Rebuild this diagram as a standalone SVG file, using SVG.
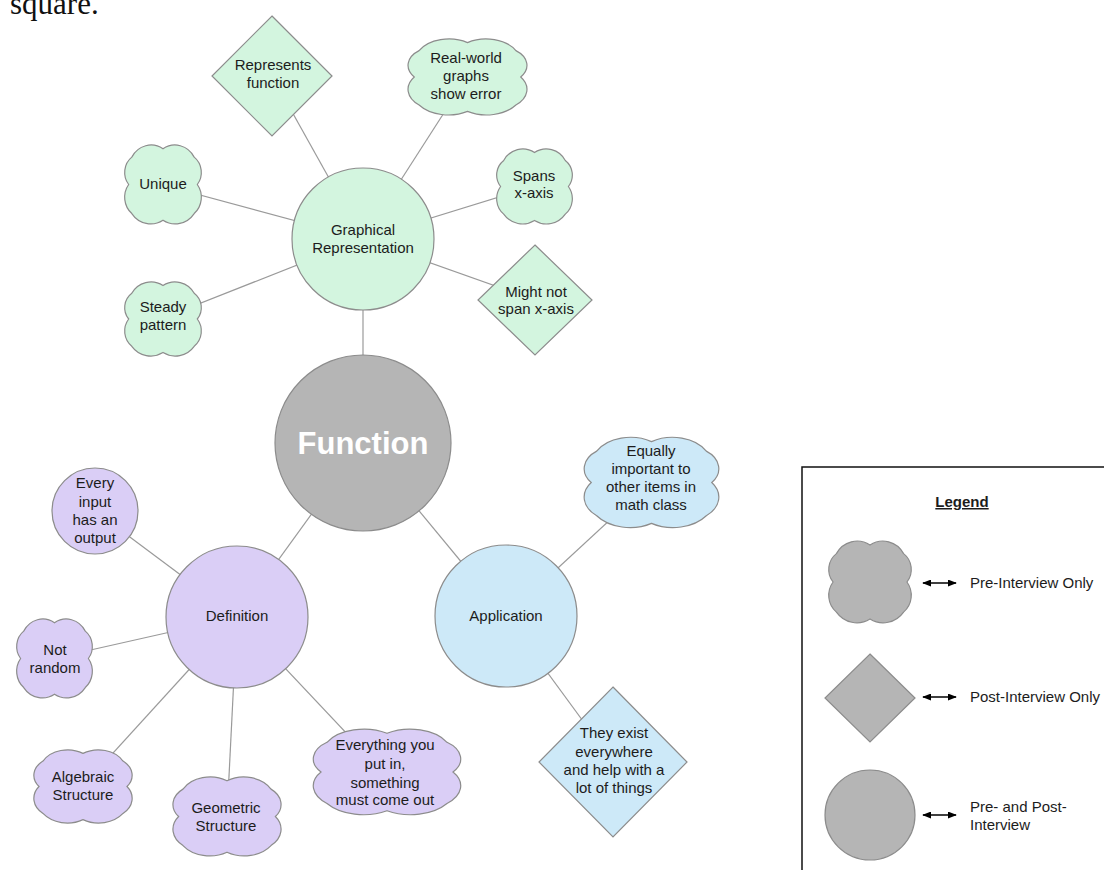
<svg xmlns="http://www.w3.org/2000/svg" width="1104" height="870" viewBox="0 0 1104 870">
<style>
.n{stroke:#8c8c8c;stroke-width:1.2}
.g{fill:#d3f5df}
.p{fill:#dacef6}
.b{fill:#cde9f8}
.k{fill:#b5b5b5}
.t{font-family:"Liberation Sans",Arial,sans-serif;font-size:15px;fill:#1c1c1c;text-anchor:middle}
.l{font-family:"Liberation Sans",Arial,sans-serif;font-size:15px;fill:#1c1c1c}
.c line{stroke:#9a9a9a;stroke-width:1.2}
</style>
<defs>
<path id="cloud" vector-effect="non-scaling-stroke" d="M10,17 A28.1,28.1 0 0 1 50,7 A28.1,28.1 0 0 1 90,17 A23.2,23.2 0 0 1 94,50 A25.6,25.6 0 0 1 90,85 A30,30 0 0 1 50,93 A30,30 0 0 1 10,85 A25.6,25.6 0 0 1 6,50 A23.2,23.2 0 0 1 10,17 Z"/>
<marker id="ah" viewBox="0 0 10 10" refX="9" refY="5" markerWidth="9" markerHeight="7" markerUnits="userSpaceOnUse" orient="auto-start-reverse" preserveAspectRatio="none">
<path d="M0,0 L10,5 L0,10 Z" fill="#000"/>
</marker>
</defs>
<rect width="1104" height="870" fill="#fff"/>
<text x="10" y="14" font-family="Liberation Serif,'Times New Roman',serif" font-size="31" fill="#111">square.</text>

<g id="connectors" class="c">
<line x1="363" y1="239" x2="272" y2="76"/>
<line x1="363" y1="239" x2="467" y2="77"/>
<line x1="363" y1="239" x2="163" y2="185"/>
<line x1="363" y1="239" x2="535" y2="186"/>
<line x1="363" y1="239" x2="163" y2="318"/>
<line x1="363" y1="239" x2="535" y2="300"/>
<line x1="363" y1="239" x2="363" y2="443"/>
<line x1="363" y1="443" x2="237" y2="617"/>
<line x1="363" y1="443" x2="506" y2="616"/>
<line x1="237" y1="617" x2="95" y2="511"/>
<line x1="237" y1="617" x2="55" y2="658"/>
<line x1="237" y1="617" x2="83" y2="786"/>
<line x1="237" y1="617" x2="227" y2="816"/>
<line x1="237" y1="617" x2="383" y2="772"/>
<line x1="506" y1="616" x2="651" y2="482"/>
<line x1="506" y1="616" x2="613" y2="762"/>
</g>

<g id="function">
<circle class="n k" cx="363" cy="443" r="88"/>
<text x="363" y="454" text-anchor="middle" font-family="Liberation Sans,Arial,sans-serif" font-size="31" font-weight="bold" fill="#fff">Function</text>
</g>

<g id="graphical">
<circle class="n g" cx="363" cy="239" r="71"/>
<text class="t"><tspan x="363" y="235">Graphical</tspan><tspan x="363" y="253">Representation</tspan></text>
</g>
<g id="represents">
<polygon class="n g" points="272,16 332,76 272,136 212,76"/>
<text class="t"><tspan x="273" y="70">Represents</tspan><tspan x="273" y="88">function</tspan></text>
</g>
<g id="realworld">
<use href="#cloud" class="n g" transform="translate(407,37) scale(1.21,0.8)"/>
<text class="t"><tspan x="466" y="63">Real-world</tspan><tspan x="466" y="81">graphs</tspan><tspan x="466" y="99">show error</tspan></text>
</g>
<g id="unique">
<use href="#cloud" class="n g" transform="translate(124,143) scale(0.78,0.83)"/>
<text class="t" x="163" y="189">Unique</text>
</g>
<g id="spans">
<use href="#cloud" class="n g" transform="translate(496,147) scale(0.77,0.79)"/>
<text class="t"><tspan x="534" y="181">Spans</tspan><tspan x="534" y="198">x-axis</tspan></text>
</g>
<g id="steady">
<use href="#cloud" class="n g" transform="translate(124,280) scale(0.78,0.78)"/>
<text class="t"><tspan x="163" y="312">Steady</tspan><tspan x="163" y="330">pattern</tspan></text>
</g>
<g id="mightnot">
<polygon class="n g" points="535,245 592,300 535,355 478,300"/>
<text class="t"><tspan x="536" y="297">Might not</tspan><tspan x="536" y="314">span x-axis</tspan></text>
</g>

<g id="definition">
<circle class="n p" cx="237" cy="617" r="71"/>
<text class="t" x="237" y="621">Definition</text>
</g>
<g id="everyinput">
<circle class="n p" cx="95" cy="511" r="43"/>
<text class="t"><tspan x="95" y="488">Every</tspan><tspan x="95" y="507">input</tspan><tspan x="95" y="525">has an</tspan><tspan x="95" y="543">output</tspan></text>
</g>
<g id="notrandom">
<use href="#cloud" class="n p" transform="translate(16,617) scale(0.77,0.83)"/>
<text class="t"><tspan x="55" y="655">Not</tspan><tspan x="55" y="673">random</tspan></text>
</g>
<g id="algebraic">
<use href="#cloud" class="n p" transform="translate(33,748) scale(1.0,0.77)"/>
<text class="t"><tspan x="83" y="782">Algebraic</tspan><tspan x="83" y="800">Structure</tspan></text>
</g>
<g id="geometric">
<use href="#cloud" class="n p" transform="translate(172,775) scale(1.1,0.83)"/>
<text class="t"><tspan x="226" y="813">Geometric</tspan><tspan x="226" y="831">Structure</tspan></text>
</g>
<g id="everything">
<use href="#cloud" class="n p" transform="translate(312,727) scale(1.5,0.9)"/>
<text class="t"><tspan x="385" y="750">Everything you</tspan><tspan x="385" y="769">put in,</tspan><tspan x="385" y="788">something</tspan><tspan x="385" y="805">must come out</tspan></text>
</g>

<g id="application">
<circle class="n b" cx="506" cy="616" r="71"/>
<text class="t" x="506" y="621">Application</text>
</g>
<g id="equally">
<use href="#cloud" class="n b" transform="translate(583,435) scale(1.37,0.95)"/>
<text class="t"><tspan x="651" y="456">Equally</tspan><tspan x="651" y="474">important to</tspan><tspan x="651" y="492">other items in</tspan><tspan x="651" y="510">math class</tspan></text>
</g>
<g id="theyexist">
<polygon class="n b" points="613,687 687,762 613,837 539,762"/>
<text class="t"><tspan x="614" y="738">They exist</tspan><tspan x="614" y="757">everywhere</tspan><tspan x="614" y="775">and help with a</tspan><tspan x="614" y="793">lot of things</tspan></text>
</g>

<g id="legend">
<rect x="802" y="467" width="330" height="430" fill="#fff" stroke="#111" stroke-width="1.5"/>
<text x="962" y="507" text-anchor="middle" font-family="Liberation Sans,Arial,sans-serif" font-size="15" font-weight="bold" fill="#1c1c1c" text-decoration="underline">Legend</text>
<use href="#cloud" class="n k" transform="translate(828,539) scale(0.84,0.86)"/>
<polygon class="n k" points="870,654 915,698 870,742 825,698"/>
<circle class="n k" cx="870" cy="815" r="45"/>
<line x1="923" y1="583" x2="956" y2="583" stroke="#000" stroke-width="1.5" marker-start="url(#ah)" marker-end="url(#ah)"/>
<line x1="923" y1="697" x2="956" y2="697" stroke="#000" stroke-width="1.5" marker-start="url(#ah)" marker-end="url(#ah)"/>
<line x1="923" y1="815" x2="956" y2="815" stroke="#000" stroke-width="1.5" marker-start="url(#ah)" marker-end="url(#ah)"/>
<text class="l" x="970" y="588">Pre-Interview Only</text>
<text class="l" x="970" y="702">Post-Interview Only</text>
<text class="l"><tspan x="970" y="812">Pre- and Post-</tspan><tspan x="970" y="830">Interview</tspan></text>
</g>
</svg>
